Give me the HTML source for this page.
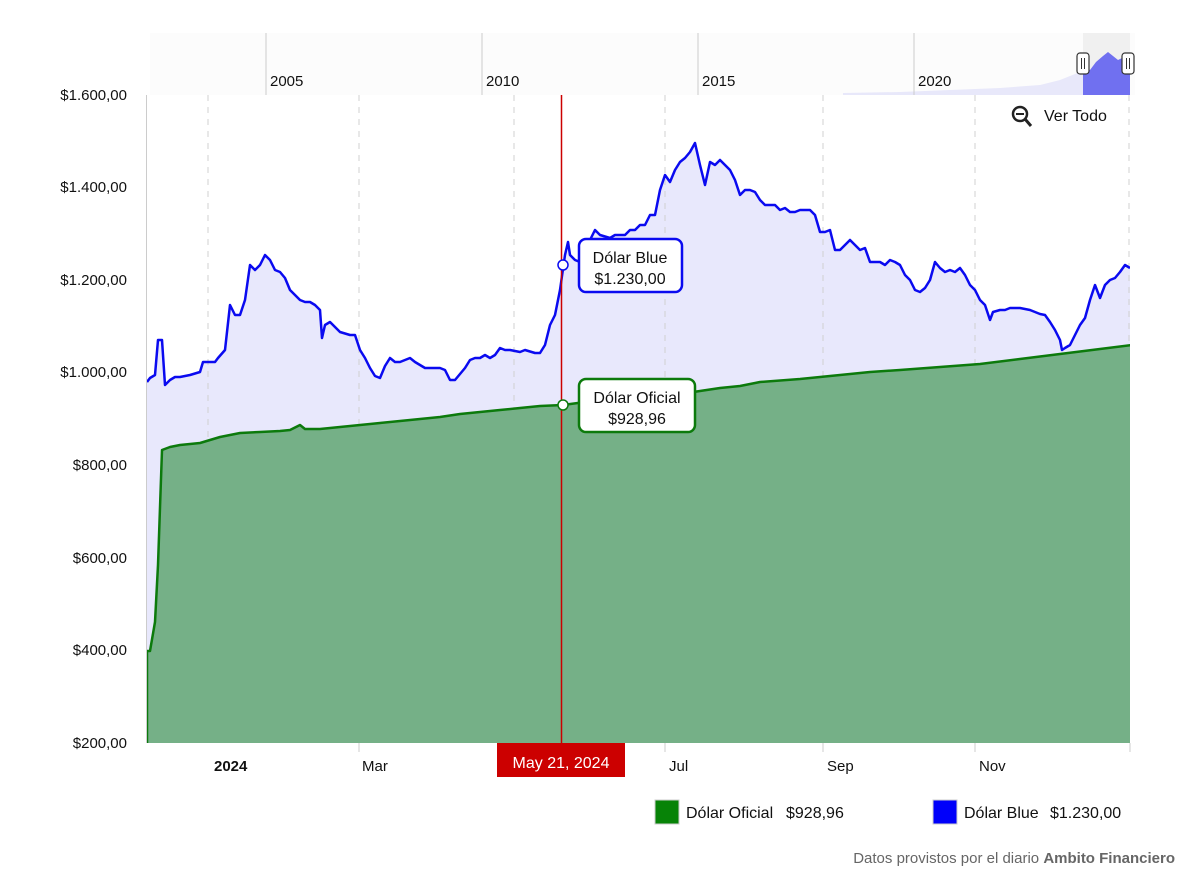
<!DOCTYPE html>
<html><head><meta charset="utf-8"><style>
body{margin:0;background:#fff;width:1200px;height:878px;overflow:hidden;font-family:"Liberation Sans",Arial,sans-serif}
svg text{font-family:"Liberation Sans",Arial,sans-serif}
</style></head><body>
<svg width="1200" height="878" viewBox="0 0 1200 878" xmlns="http://www.w3.org/2000/svg">
<defs>
<path id="bline" d="M147,382 L150,378 L155,375 L158,340 L162,340 L165,385 L170,380 L175,377 L180,377 L190,375 L200,372 L203,362 L210,362 L215,362 L218,358 L225,350 L230,305 L235,315 L240,315 L245,300 L250,265 L255,270 L260,265 L265,255 L270,260 L275,270 L280,272 L285,278 L290,290 L295,295 L300,300 L305,302 L310,302 L315,305 L320,310 L322,338 L325,325 L330,322 L340,332 L350,335 L355,335 L360,350 L365,358 L370,368 L375,376 L380,378 L385,366 L390,358 L395,362 L400,362 L410,358 L415,362 L420,365 L425,368 L440,368 L445,370 L450,380 L455,380 L460,374 L465,368 L470,360 L475,358 L480,358 L485,355 L490,358 L495,355 L500,348 L505,350 L510,350 L520,352 L525,350 L535,353 L540,353 L545,345 L550,325 L555,315 L560,290 L565,255 L568,242 L570,255 L575,260 L580,262 L585,258 L590,240 L595,230 L600,235 L610,238 L615,235 L625,235 L630,230 L635,230 L640,225 L645,225 L650,215 L655,215 L660,190 L665,175 L670,182 L675,170 L680,162 L685,158 L690,152 L695,143 L700,165 L705,185 L710,162 L715,165 L720,160 L725,165 L730,170 L735,180 L740,195 L745,190 L750,190 L755,192 L760,200 L765,205 L770,205 L775,205 L780,210 L785,208 L790,212 L795,212 L800,210 L810,210 L815,215 L820,232 L825,232 L830,230 L835,250 L840,250 L845,245 L850,240 L855,245 L860,250 L865,248 L870,262 L875,262 L880,262 L885,265 L890,260 L895,262 L900,265 L905,275 L910,280 L915,290 L920,292 L925,288 L930,280 L935,262 L940,268 L945,272 L950,270 L955,272 L960,268 L965,275 L970,285 L975,290 L980,300 L985,305 L990,320 L993,312 L1000,310 L1005,310 L1010,308 L1020,308 L1030,310 L1040,314 L1045,315 L1050,322 L1055,330 L1060,340 L1062,350 L1065,348 L1070,345 L1075,335 L1080,325 L1085,318 L1090,300 L1095,285 L1100,298 L1105,285 L1110,280 L1115,278 L1120,272 L1125,265 L1130,268"/>
</defs>
<!-- navigator -->
<rect x="150" y="33" width="985" height="62" fill="#fcfcfc"/>
<path d="M843,95 L843,93 L900,92 L950,90 L1000,88 L1040,85 L1060,80 L1075,74 L1083,70 L1083,95 Z" fill="#e8e8fa"/>
<rect x="1083" y="33" width="47" height="62" fill="#f0f0f0"/>
<path d="M1083,95 L1083,68 L1090,70 L1096,62 L1103,56 L1108,52 L1113,56 L1118,60 L1124,57 L1130,62 L1130,95 Z" fill="#7070f0"/>
<g stroke="#ccc" stroke-width="1"><line x1="266" y1="33" x2="266" y2="95"/><line x1="482" y1="33" x2="482" y2="95"/><line x1="698" y1="33" x2="698" y2="95"/><line x1="914" y1="33" x2="914" y2="95"/></g>
<g font-size="15" fill="#111"><text x="270" y="86">2005</text><text x="486" y="86">2010</text><text x="702" y="86">2015</text><text x="918" y="86">2020</text></g>
<g fill="#fff" stroke="#333" stroke-width="1.2"><rect x="1077" y="53" width="12" height="21" rx="3"/><rect x="1122" y="53" width="12" height="21" rx="3"/></g>
<g stroke="#333" stroke-width="1"><line x1="1081.5" y1="58" x2="1081.5" y2="69"/><line x1="1084.5" y1="58" x2="1084.5" y2="69"/><line x1="1126.5" y1="58" x2="1126.5" y2="69"/><line x1="1129.5" y1="58" x2="1129.5" y2="69"/></g>

<!-- blue area -->
<path fill="#e8e8fc" d="M147,743 L147,382 L1130,268 L1130,743 Z" opacity="0"/>
<g><use href="#bline" fill="none" stroke="none"/></g>
<clipPath id="c"><rect x="147" y="95" width="983" height="648"/></clipPath>
<g clip-path="url(#c)">
<path fill="#e8e8fc" d="M147,743 L147,382 L150,378 L155,375 L158,340 L162,340 L165,385 L170,380 L175,377 L180,377 L190,375 L200,372 L203,362 L210,362 L215,362 L218,358 L225,350 L230,305 L235,315 L240,315 L245,300 L250,265 L255,270 L260,265 L265,255 L270,260 L275,270 L280,272 L285,278 L290,290 L295,295 L300,300 L305,302 L310,302 L315,305 L320,310 L322,338 L325,325 L330,322 L340,332 L350,335 L355,335 L360,350 L365,358 L370,368 L375,376 L380,378 L385,366 L390,358 L395,362 L400,362 L410,358 L415,362 L420,365 L425,368 L440,368 L445,370 L450,380 L455,380 L460,374 L465,368 L470,360 L475,358 L480,358 L485,355 L490,358 L495,355 L500,348 L505,350 L510,350 L520,352 L525,350 L535,353 L540,353 L545,345 L550,325 L555,315 L560,290 L565,255 L568,242 L570,255 L575,260 L580,262 L585,258 L590,240 L595,230 L600,235 L610,238 L615,235 L625,235 L630,230 L635,230 L640,225 L645,225 L650,215 L655,215 L660,190 L665,175 L670,182 L675,170 L680,162 L685,158 L690,152 L695,143 L700,165 L705,185 L710,162 L715,165 L720,160 L725,165 L730,170 L735,180 L740,195 L745,190 L750,190 L755,192 L760,200 L765,205 L770,205 L775,205 L780,210 L785,208 L790,212 L795,212 L800,210 L810,210 L815,215 L820,232 L825,232 L830,230 L835,250 L840,250 L845,245 L850,240 L855,245 L860,250 L865,248 L870,262 L875,262 L880,262 L885,265 L890,260 L895,262 L900,265 L905,275 L910,280 L915,290 L920,292 L925,288 L930,280 L935,262 L940,268 L945,272 L950,270 L955,272 L960,268 L965,275 L970,285 L975,290 L980,300 L985,305 L990,320 L993,312 L1000,310 L1005,310 L1010,308 L1020,308 L1030,310 L1040,314 L1045,315 L1050,322 L1055,330 L1060,340 L1062,350 L1065,348 L1070,345 L1075,335 L1080,325 L1085,318 L1090,300 L1095,285 L1100,298 L1105,285 L1110,280 L1115,278 L1120,272 L1125,265 L1130,268 L1130,743 Z"/>
<!-- grid -->
<g stroke="#d0d0d0" stroke-width="1" stroke-dasharray="6,6"><line x1="208" y1="95" x2="208" y2="743"/><line x1="359" y1="95" x2="359" y2="743"/><line x1="514" y1="95" x2="514" y2="743"/><line x1="665" y1="95" x2="665" y2="743"/><line x1="823" y1="95" x2="823" y2="743"/><line x1="975" y1="95" x2="975" y2="743"/><line x1="1129" y1="95" x2="1129" y2="743"/></g>
<!-- green area -->
<path fill="#75b087" stroke="#0c7a0c" stroke-width="2.5" stroke-linejoin="round" d="M147,745 L147,651 L150,651 L155,622 L158,565 L162,450 L170,447 L180,445 L200,443 L210,440 L220,437 L240,433 L260,432 L280,431 L290,430 L300,425 L305,429 L320,429 L340,427 L360,425 L380,423 L400,421 L420,419 L440,417 L460,414 L480,412 L500,410 L520,408 L540,406 L563,405 L600,400 L640,397 L680,394 L720,388 L740,386 L760,382 L800,379 L830,376 L870,372 L900,370 L940,367 L980,364 L1020,359 L1060,354 L1100,349 L1132,345 L1132,745 Z"/>
<use href="#bline" fill="none" stroke="#0a0af0" stroke-width="2.5" stroke-linejoin="round"/>
</g>
<line x1="146.5" y1="95" x2="146.5" y2="743" stroke="#ccc"/>
<!-- y labels -->
<g font-size="15" fill="#111" text-anchor="end"><text x="127" y="100">$1.600,00</text><text x="127" y="192">$1.400,00</text><text x="127" y="285">$1.200,00</text><text x="127" y="377">$1.000,00</text><text x="127" y="470">$800,00</text><text x="127" y="563">$600,00</text><text x="127" y="655">$400,00</text><text x="127" y="748">$200,00</text></g>
<!-- x labels -->
<g font-size="15" fill="#111"><text x="214" y="771" font-weight="bold">2024</text><text x="362" y="771">Mar</text><text x="669" y="771">Jul</text><text x="827" y="771">Sep</text><text x="979" y="771">Nov</text></g>
<g stroke="#ccc"><line x1="359" y1="743" x2="359" y2="752"/><line x1="665" y1="743" x2="665" y2="752"/><line x1="823" y1="743" x2="823" y2="752"/><line x1="975" y1="743" x2="975" y2="752"/><line x1="1130" y1="743" x2="1130" y2="752"/></g>
<!-- crosshair -->
<line x1="561.5" y1="95" x2="561.5" y2="743" stroke="#cc0000" stroke-width="1.5"/>
<rect x="497" y="743" width="128" height="34" fill="#cc0000"/>
<text x="561" y="768" font-size="16" fill="#fff" text-anchor="middle">May 21, 2024</text>
<!-- tooltips -->
<rect x="579" y="239" width="103" height="53" rx="7" fill="#fff" stroke="#0a0af0" stroke-width="2.5"/>
<text x="630" y="263" font-size="16" fill="#111" text-anchor="middle">Dólar Blue</text>
<text x="630" y="284" font-size="16" fill="#111" text-anchor="middle">$1.230,00</text>
<rect x="579" y="379" width="116" height="53" rx="7" fill="#fff" stroke="#0c7a0c" stroke-width="2.5"/>
<text x="637" y="403" font-size="16" fill="#111" text-anchor="middle">Dólar Oficial</text>
<text x="637" y="424" font-size="16" fill="#111" text-anchor="middle">$928,96</text>
<circle cx="563" cy="265" r="5" fill="#fff" stroke="#0a0af0" stroke-width="1.5"/>
<circle cx="563" cy="405" r="5" fill="#fff" stroke="#0c7a0c" stroke-width="1.5"/>
<!-- ver todo -->
<circle cx="1020" cy="114" r="7" fill="none" stroke="#222" stroke-width="2.5"/>
<line x1="1016" y1="114" x2="1024" y2="114" stroke="#222" stroke-width="2"/>
<line x1="1025" y1="119" x2="1031" y2="126" stroke="#222" stroke-width="3"/>
<text x="1044" y="121" font-size="16" fill="#111">Ver Todo</text>
<!-- legend -->
<rect x="655" y="800" width="24" height="24" fill="#078307" stroke="#ccc"/>
<text x="686" y="818" font-size="16" fill="#111">Dólar Oficial</text>
<text x="786" y="818" font-size="16" fill="#111">$928,96</text>
<rect x="933" y="800" width="24" height="24" fill="#0000fa" stroke="#ccc"/>
<text x="964" y="818" font-size="16" fill="#111">Dólar Blue</text>
<text x="1050" y="818" font-size="16" fill="#111">$1.230,00</text>
<text x="1175" y="863" font-size="15" fill="#666" text-anchor="end">Datos provistos por el diario <tspan font-weight="bold">Ambito Financiero</tspan></text>
</svg>
</body></html>
